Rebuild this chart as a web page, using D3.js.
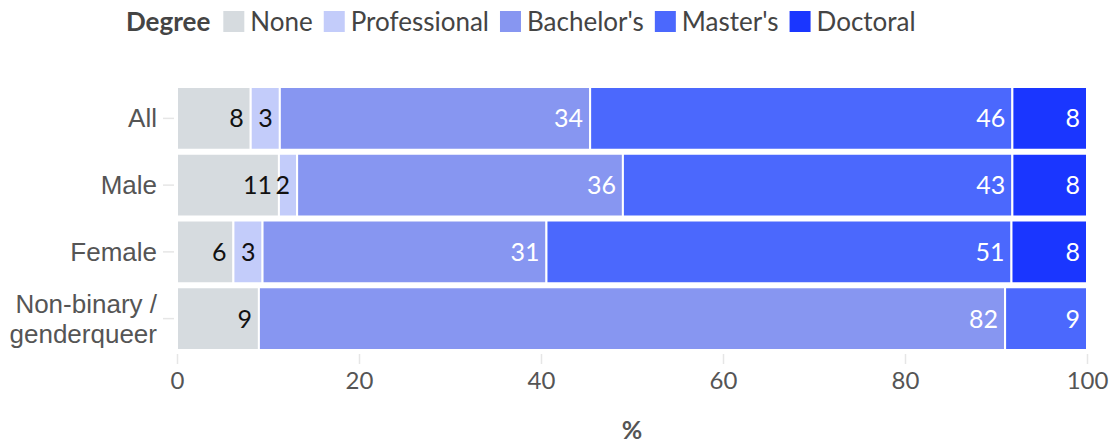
<!DOCTYPE html>
<html>
<head>
<meta charset="utf-8">
<script src="https://cdn.jsdelivr.net/npm/d3@7"></script>
<style>
  html, body { margin: 0; padding: 0; background: #fff; }
  svg { display: block; font-family: Lato, "Noto Sans", sans-serif; }
</style>
</head>
<body>
<svg id="chart" width="1112" height="445"></svg>
<script>
// Share of respondents by highest degree, per gender group (percent)
const groups = ["All", "Male", "Female", "Non-binary / genderqueer"];
const groupLines = [["All"], ["Male"], ["Female"], ["Non-binary /", "genderqueer"]];
const degrees = ["None", "Professional", "Bachelor's", "Master's", "Doctoral"];
const degreeColors = ["#d6dbdf", "#c3ccfa", "#8796f1", "#4b68fd", "#1a36ff"];
const noneValues         = [8.1, 11.2, 6.2, 9.0];
const professionalValues = [3.2, 2.0, 3.2, 0];
const bachelorsValues    = [34.1, 35.8, 31.2, 82.0];
const mastersValues      = [46.4, 42.8, 51.1, 9.0];
const doctoralValues     = [8.2, 8.2, 8.3, 0];
const xTicks = [0, 20, 40, 60, 80, 100];

const seriesValues = [noneValues, professionalValues, bachelorsValues, mastersValues, doctoralValues];
const rows = groups.map((g, i) => {
  const r = { group: g };
  degrees.forEach((d, j) => { r[d] = seriesValues[j][i]; });
  return r;
});

const svg = d3.select("#chart");
const margin = { left: 177, right: 25, top: 85, bottom: 93 };
const W = 1112, H = 445;

const x = d3.scaleLinear().domain([0, 100]).range([margin.left, W - margin.right]);
const y = d3.scaleBand().domain(groups).range([margin.top, H - margin.bottom])
  .paddingInner(0.06).paddingOuter(0.03);
const color = d3.scaleOrdinal().domain(degrees).range(degreeColors);

const stacked = d3.stack().keys(degrees)(rows);

// x axis: light tick marks, no domain line
const xAxis = svg.append("g")
  .attr("transform", `translate(0,${H - margin.bottom + 2})`)
  .call(d3.axisBottom(x).tickValues(xTicks).tickSize(10).tickPadding(8).tickFormat(d3.format("d")));
xAxis.select(".domain").remove();
xAxis.selectAll(".tick line").attr("stroke", "#e6e6e6").attr("stroke-width", 1.5);
xAxis.selectAll(".tick text").attr("fill", "#555").style("font-size", "24px")
  .style("font-family", "Lato, 'Noto Sans', sans-serif");

// y axis with multi-line category labels
const yAxis = svg.append("g")
  .attr("transform", `translate(${margin.left - 3},0)`)
  .call(d3.axisLeft(y).tickSize(11).tickPadding(7).tickFormat(""));
yAxis.select(".domain").remove();
yAxis.selectAll(".tick line").attr("stroke", "#e6e6e6").attr("stroke-width", 1.5);
yAxis.selectAll(".tick").each(function (d, i) {
  const lines = groupLines[i];
  const t = d3.select(this).append("text")
    .attr("x", -17).attr("fill", "#555")
    .attr("text-anchor", "end")
    .style("font-size", "26px");
  lines.forEach((ln, k) => {
    t.append("tspan").attr("x", -17)
      .attr("dy", k === 0 ? `${0.35 - (lines.length - 1) * 0.58}em` : "1.16em")
      .text(ln);
  });
});

// stacked bars
const layer = svg.append("g").selectAll("g").data(stacked).join("g")
  .attr("fill", d => color(d.key));
layer.selectAll("rect").data(d => d.map(v => ({ v, key: d.key })))
  .join("rect")
  .attr("x", d => x(d.v[0]))
  .attr("y", d => y(d.v.data.group))
  .attr("width", d => Math.max(0, x(d.v[1]) - x(d.v[0])))
  .attr("height", y.bandwidth())
  .attr("stroke", "#fff").attr("stroke-width", 2);

// value labels, right-aligned inside each segment
const fmt = d3.format(".0f");
const dark = new Set(["None", "Professional"]);
layer.selectAll("text").data(d => d.map(v => ({ v, key: d.key })).filter(d => d.v[1] - d.v[0] > 0))
  .join("text")
  .attr("x", d => x(d.v[1]) - 7)
  .attr("y", d => y(d.v.data.group) + y.bandwidth() / 2)
  .attr("dy", "0.36em")
  .attr("text-anchor", "end")
  .attr("fill", d => dark.has(d.key) ? "#111" : "#fff")
  .style("font-size", "25px")
  .text(d => fmt(d.v[1] - d.v[0]));

// x axis title
svg.append("text")
  .attr("x", (x(0) + x(100)) / 2).attr("y", 439)
  .attr("text-anchor", "middle").attr("fill", "#555")
  .style("font-size", "25px").style("font-weight", "bold")
  .text("%");

// legend
const legend = svg.append("g").attr("transform", "translate(126,22)");
const title = legend.append("text")
  .attr("x", 0).attr("dy", "0.36em").attr("fill", "#444")
  .style("font-size", "26px").style("font-weight", "bold")
  .text("Degree");
let lx = title.node().getComputedTextLength() + 13;
degrees.forEach(d => {
  const g = legend.append("g").attr("transform", `translate(${lx},0)`);
  g.append("rect").attr("x", 0).attr("y", -11).attr("width", 21).attr("height", 21)
    .attr("fill", color(d));
  const t = g.append("text").attr("x", 27).attr("dy", "0.36em").attr("fill", "#444")
    .style("font-size", "26px").text(d);
  lx += 27 + t.node().getComputedTextLength() + 11;
});
</script>
</body>
</html>
